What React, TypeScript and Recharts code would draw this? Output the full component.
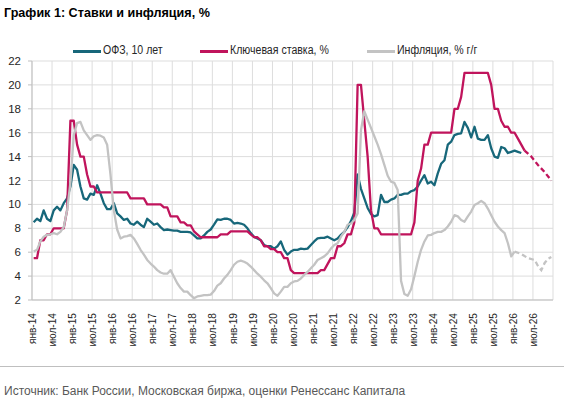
import React from 'react';
import { LineChart, Line, XAxis, YAxis, CartesianGrid } from 'recharts';

// monthly values, first entry = Jan 2014
const ofz10y = [
  8.5, 8.8, 8.6, 9.5, 8.8, 8.6, 9.5, 9.8, 9.5, 10.1, 10.5, 11.5,
  13.3, 12.9, 11.5, 10.5, 10.4, 10.9, 10.8, 11.6, 10.9, 10.1, 9.6, 9.6,
  10.1, 9.25, 9.0, 8.7, 8.8, 8.4, 8.3, 8.55, 8.3, 8.1, 8.8, 8.55,
  8.3, 8.4, 8.1, 7.85, 7.9, 7.85, 7.8, 7.8, 7.7, 7.7, 7.7, 7.65,
  7.4, 7.15, 7.15, 7.4, 7.7, 7.9, 8.3, 8.75, 8.7, 8.8, 8.8, 8.7,
  8.4, 8.45, 8.4, 8.3, 8.0, 7.6, 7.3, 7.15, 7.0, 6.6, 6.5, 6.5,
  6.3, 6.5, 6.9, 6.2, 5.8, 6.05, 6.2, 6.2, 6.3, 6.25, 6.3, 6.6,
  6.9, 7.15, 7.2, 7.2, 7.3, 7.15, 7.0, 7.15, 7.45, 7.7, 8.1, 8.6,
  9.3, 12.5, 11.3, 10.5, 9.7, 9.2, 9.0, 9.1, 10.8, 10.2, 10.2, 10.4,
  10.5, 10.8, 10.8, 10.9, 10.9, 11.1, 11.2, 11.5, 12.0, 12.45, 11.75, 11.9,
  11.6, 12.6, 13.4, 13.7, 15.0, 15.25, 15.8, 15.9, 15.95, 16.9, 16.4, 15.6,
  16.5, 15.5, 15.4, 15.4, 15.8, 14.7, 14.0, 13.9, 14.8, 14.7, 14.3, 14.4,
  14.5, 14.4, 14.3,
];

const keyRate = [
  5.5, 5.5, 7, 7, 7.5, 7.5, 8, 8, 8, 8, 9.5, 17,
  17, 15, 14, 14, 12.5, 11.5, 11.5, 11, 11, 11, 11, 11,
  11, 11, 11, 11, 11, 10.5, 10.5, 10.5, 10.5, 10.5, 10, 10,
  10, 10, 10, 9.75, 9.75, 9, 9, 9, 8.5, 8.5, 8.25, 8.25,
  7.75, 7.5, 7.25, 7.25, 7.25, 7.25, 7.25, 7.25, 7.5, 7.5, 7.5, 7.75,
  7.75, 7.75, 7.75, 7.75, 7.75, 7.5, 7.25, 7.25, 7, 6.5, 6.5, 6.25,
  6.25, 6, 6, 5.5, 5.5, 4.5, 4.25, 4.25, 4.25, 4.25, 4.25, 4.25,
  4.25, 4.25, 4.5, 4.5, 5, 5.5, 5.5, 6.5, 6.5, 6.75, 7.5, 7.5,
  8.5, 20, 20, 17, 14, 9.5, 8, 8, 7.5, 7.5, 7.5, 7.5,
  7.5, 7.5, 7.5, 7.5, 7.5, 7.5, 8.5, 12, 13, 15, 15, 16,
  16, 16, 16, 16, 16, 16, 18, 18, 19, 21, 21, 21,
  21, 21, 21, 21, 21, 20, 18, 18, 17, 16.5, 16.5, 16,
  16, 15.5, 15, 14.5,
];

const inflation = [
  6.05, 6.2, 6.9, 7.3, 7.45, 7.5, 7.6, 7.5, 7.7, 8.1, 9.5, 11.8,
  15.8, 16.8, 16.9, 16.2, 15.8, 15.4, 15.7, 15.8, 15.75, 15.6, 15.0, 12.5,
  9.5, 7.9, 7.15, 7.3, 7.35, 7.45, 7.15, 6.7, 6.2, 5.8, 5.35, 5.05,
  4.8, 4.5, 4.3, 4.2, 4.2, 4.5, 3.95, 3.4, 3.0, 2.7, 2.7, 2.4,
  2.15, 2.3, 2.35, 2.4, 2.4, 2.45, 2.75, 3.2, 3.4, 3.8, 4.1, 4.5,
  4.95, 5.2, 5.3, 5.2, 5.05, 4.8, 4.5, 4.2, 3.95, 3.65, 3.4, 3.0,
  2.55, 2.35, 2.7, 3.1, 3.1, 3.4, 3.55, 3.6, 3.8, 4.1, 4.35, 4.65,
  4.95, 5.35, 5.5, 5.65, 5.9, 6.3, 6.6, 6.75, 7.3, 7.7, 8.3, 8.4,
  8.7, 9.25, 16.2, 17.8, 17.1, 16.4, 15.7, 15.0, 14.2, 13.3, 12.4, 11.9,
  11.8, 11.2, 3.6, 2.5, 2.35, 2.9, 4.0, 5.2, 6.2, 6.9, 7.4, 7.45,
  7.6, 7.7, 7.7, 7.85, 8.15, 8.55, 9.1, 9.0, 8.7, 8.55, 9.0, 9.4,
  9.95, 10.1, 10.3, 10.1, 9.65, 9.1, 8.55, 8.15, 7.85, 7.6, 6.75, 5.65,
  6.05,
];

// forecasts (dashed), month index from Jan 2014
const keyRateFcMonths = [147, 149, 151, 153, 155];
const keyRateFc = [14.5, 14.0, 13.3, 12.7, 12.0];
const inflationFcMonths = [144, 146, 148, 150, 151, 152, 153, 154, 155];
const inflationFc = [6.05, 5.85, 5.5, 5.35, 4.85, 4.5, 5.1, 5.45, 5.6];

const tickLabels = [
  'янв-14', 'июл-14', 'янв-15', 'июл-15', 'янв-16', 'июл-16', 'янв-17', 'июл-17',
  'янв-18', 'июл-18', 'янв-19', 'июл-19', 'янв-20', 'июл-20', 'янв-21', 'июл-21',
  'янв-22', 'июл-22', 'янв-23', 'июл-23', 'янв-24', 'июл-24', 'янв-25', 'июл-25',
  'янв-26', 'июл-26',
];
const yTicks = [2, 4, 6, 8, 10, 12, 14, 16, 18, 20, 22];

const TEAL = '#17677A';
const MAGENTA = '#C0145C';
const GRAY = '#C3C3C3';
const FONT = '"Liberation Sans", Arial, sans-serif';

const TOTAL_MONTHS = 156;
const xTicks = Array.from({ length: TOTAL_MONTHS / 6 + 1 }, (_, i) => i * 6);

const data = Array.from({ length: TOTAL_MONTHS }, (_, k) => {
  const kf = keyRateFcMonths.indexOf(k);
  const cf = inflationFcMonths.indexOf(k);
  return {
    x: k + 0.5,
    ofz: ofz10y[k] ?? null,
    key: keyRate[k] ?? null,
    cpi: inflation[k] ?? null,
    keyFc: kf >= 0 ? keyRateFc[kf] : null,
    cpiFc: cf >= 0 ? inflationFc[cf] : null,
  };
});

const MonthTick = (props: any) => {
  const { x, y, payload } = props;
  const label = tickLabels[payload.value / 6] ?? '';
  return (
    <g transform={`translate(${x},${y + 5})`}>
      <text
        transform="rotate(-90) scale(0.88,1)"
        textAnchor="end"
        dy="0.36em"
        fontSize={11.5}
        fontFamily={FONT}
        fill="#262626"
      >
        {label}
      </text>
    </g>
  );
};

const legendItems = [
  { name: 'ОФЗ, 10 лет', color: TEAL, left: 73 },
  { name: 'Ключевая ставка, %', color: MAGENTA, left: 200 },
  { name: 'Инфляция, % г/г', color: GRAY, left: 367 },
];

export default function App() {
  return (
    <div
      style={{
        position: 'absolute',
        left: 0,
        top: 0,
        width: 570,
        height: 408,
        background: '#fff',
        fontFamily: FONT,
        overflow: 'hidden',
      }}
    >
      <div
        style={{
          position: 'absolute',
          left: 4,
          top: 6,
          fontSize: 12.6,
          fontWeight: 'bold',
          color: '#000',
          whiteSpace: 'nowrap',
        }}
      >
        График 1: Ставки и инфляция, %
      </div>

      {legendItems.map((item) => (
        <div key={item.name}>
          <div
            style={{
              position: 'absolute',
              left: item.left,
              top: 50,
              width: 28,
              height: 2.5,
              background: item.color,
            }}
          />
          <div
            style={{
              position: 'absolute',
              left: item.left + 30,
              top: 43,
              fontSize: 12,
              color: '#262626',
              whiteSpace: 'nowrap',
              transform: 'scaleX(0.88)',
              transformOrigin: 'left center',
            }}
          >
            {item.name}
          </div>
        </div>
      ))}

      <div style={{ position: 'absolute', left: 0, top: 0 }}>
        <LineChart
          width={570}
          height={350}
          data={data}
          margin={{ top: 61, right: 17, bottom: 0, left: 0 }}
        >
          <CartesianGrid stroke="#DDDDDD" strokeWidth={1} />
          <XAxis
            dataKey="x"
            type="number"
            domain={[0, TOTAL_MONTHS]}
            ticks={xTicks}
            interval={0}
            height={50}
            tick={<MonthTick />}
            tickLine={false}
            axisLine={{ stroke: '#BFBFBF' }}
          />
          <YAxis
            type="number"
            domain={[2, 22]}
            ticks={yTicks}
            interval={0}
            width={32}
            tickSize={4}
            tickMargin={7}
            tick={{ fontSize: 11.5, fill: '#262626', fontFamily: FONT }}
            tickLine={{ stroke: '#BFBFBF' }}
            axisLine={{ stroke: '#BFBFBF' }}
          />
          <Line
            dataKey="ofz"
            stroke={TEAL}
            strokeWidth={2.3}
            dot={false}
            isAnimationActive={false}
            strokeLinejoin="round"
          />
          <Line
            dataKey="key"
            stroke={MAGENTA}
            strokeWidth={2.3}
            dot={false}
            isAnimationActive={false}
            strokeLinejoin="round"
          />
          <Line
            dataKey="keyFc"
            stroke={MAGENTA}
            strokeWidth={2.3}
            strokeDasharray="5 3"
            dot={false}
            connectNulls
            isAnimationActive={false}
          />
          <Line
            dataKey="cpi"
            stroke={GRAY}
            strokeWidth={2.3}
            dot={false}
            isAnimationActive={false}
            strokeLinejoin="round"
          />
          <Line
            dataKey="cpiFc"
            stroke={GRAY}
            strokeWidth={2.3}
            strokeDasharray="5 3"
            dot={false}
            connectNulls
            isAnimationActive={false}
          />
        </LineChart>
      </div>

      <div
        style={{
          position: 'absolute',
          left: 0,
          top: 366,
          width: 564,
          height: 1,
          background: '#BFBFBF',
        }}
      />
      <div
        style={{
          position: 'absolute',
          left: 4,
          top: 384,
          fontSize: 12,
          color: '#595959',
          whiteSpace: 'nowrap',
        }}
      >
        Источник: Банк России, Московская биржа, оценки Ренессанс Капитала
      </div>
    </div>
  );
}
